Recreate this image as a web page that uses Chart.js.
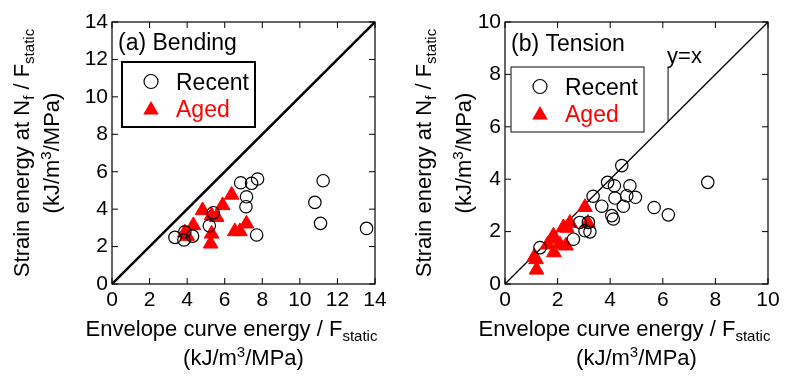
<!DOCTYPE html>
<html>
<head>
<meta charset="utf-8">
<script src="https://cdn.jsdelivr.net/npm/chart.js@4.4.0/dist/chart.umd.min.js"></script>
<style>
  body { margin: 0; background: #fff; }
  #wrap { position: relative; width: 789px; height: 378px; }
  #wrap canvas { position: absolute; top: 0; }
</style>
</head>
<body>
<div id="wrap">
  <canvas id="bending" width="394" height="378" style="left:0"></canvas>
  <canvas id="tension" width="395" height="378" style="left:394px"></canvas>
</div>
<script>
// (a) Bending
const bendingTicks = [0, 2, 4, 6, 8, 10, 12, 14];
const bendingRecentX = [3.35, 3.83, 4.29, 3.88, 5.39, 5.18, 6.85, 7.43, 7.75, 7.16, 7.13, 7.7, 10.8, 11.24, 11.1, 13.55];
const bendingRecentY = [2.49, 2.35, 2.56, 2.79, 3.81, 3.11, 5.41, 5.38, 5.61, 4.66, 4.13, 2.62, 4.36, 5.52, 3.24, 2.97];
const bendingAgedX = [6.37, 4.82, 5.89, 5.3, 5.57, 4.33, 3.88, 4.0, 5.3, 5.25, 6.54, 6.81, 7.16];
const bendingAgedY = [4.76, 3.93, 4.2, 3.66, 3.57, 3.13, 2.74, 2.56, 2.68, 2.15, 2.81, 2.81, 3.22];

// (b) Tension
const tensionTicks = [0, 2, 4, 6, 8, 10];
const tensionRecentX = [4.44, 3.9, 4.16, 4.75, 4.63, 4.96, 4.18, 3.35, 3.68, 4.5, 4.06, 4.12, 3.17, 3.04, 3.23, 2.85, 2.6, 1.33, 5.67, 6.21, 7.71];
const tensionRecentY = [4.52, 3.88, 3.75, 3.75, 3.37, 3.31, 3.28, 3.35, 2.97, 2.97, 2.61, 2.48, 2.35, 2.03, 1.99, 2.35, 1.71, 1.39, 2.92, 2.64, 3.88];
const tensionAgedX = [3.04, 3.15, 2.47, 2.35, 2.22, 1.8, 1.84, 1.62, 2.09, 2.32, 1.86, 1.12, 1.18, 1.2];
const tensionAgedY = [2.93, 2.33, 2.33, 2.14, 2.16, 1.72, 1.84, 1.5, 1.5, 1.46, 1.2, 1.04, 0.94, 0.54];
const tensionLabelX = 6.2; // where the "y=x" leader meets the line

const FONT = '"Liberation Sans", Arial, sans-serif';
const RED = '#ff0000';

function toPoints(xs, ys) {
  return xs.map((x, i) => ({ x: x, y: ys[i] }));
}

// text with sub/superscripts: parts = [[text, ''|'sub'|'sup'], ...]
function richWidth(ctx, parts, size) {
  let w = 0;
  parts.forEach(([t, k]) => {
    ctx.font = (k ? Math.round(size * 0.68) : size) + 'px ' + FONT;
    w += ctx.measureText(t).width;
  });
  return w;
}
function drawRich(ctx, parts, x, y, size) {
  let cx = x;
  parts.forEach(([t, k]) => {
    ctx.font = (k ? Math.round(size * 0.68) : size) + 'px ' + FONT;
    const dy = k === 'sub' ? size * 0.24 : k === 'sup' ? -size * 0.36 : 0;
    ctx.fillText(t, cx, y + dy);
    cx += ctx.measureText(t).width;
  });
}

const yTitle = [['Strain energy at N', ''], ['f', 'sub'], [' / F', ''], ['static', 'sub']];
const xTitle = [['Envelope curve energy / F', ''], ['static', 'sub']];
const unitTitle = [['(kJ/m', ''], ['3', 'sup'], ['/MPa)', '']];

const decoPlugin = {
  id: 'deco',
  afterDraw(chart, args, o) {
    const ctx = chart.ctx;
    const a = chart.chartArea;
    const xs = chart.scales.x, ys = chart.scales.y;
    ctx.save();
    ctx.fillStyle = '#000';
    ctx.strokeStyle = '#000';

    // frame + inward ticks
    ctx.lineWidth = 1.2;
    ctx.strokeRect(a.left, a.top, a.right - a.left, a.bottom - a.top);
    ctx.lineWidth = 1;
    ctx.beginPath();
    o.ticks.forEach(v => {
      const px = xs.getPixelForValue(v), py = ys.getPixelForValue(v);
      ctx.moveTo(px, a.bottom); ctx.lineTo(px, a.bottom - 6);
      ctx.moveTo(px, a.top); ctx.lineTo(px, a.top + 6);
      ctx.moveTo(a.left, py); ctx.lineTo(a.left + 6, py);
      ctx.moveTo(a.right, py); ctx.lineTo(a.right - 6, py);
    });
    ctx.stroke();

    // axis titles
    ctx.textBaseline = 'alphabetic';
    ctx.textAlign = 'left';
    const cx = (a.left + a.right) / 2;
    const cy = (a.top + a.bottom) / 2;
    let w = richWidth(ctx, xTitle, 22);
    drawRich(ctx, xTitle, cx - 12 - w / 2, 336, 22);
    w = richWidth(ctx, unitTitle, 22);
    drawRich(ctx, unitTitle, cx - w / 2, 365, 22);

    [[yTitle, o.yTitleX[0]], [unitTitle, o.yTitleX[1]]].forEach(([parts, bx]) => {
      ctx.save();
      ctx.translate(bx, cy);
      ctx.rotate(-Math.PI / 2);
      const tw = richWidth(ctx, parts, 22);
      drawRich(ctx, parts, -tw / 2, 0, 22);
      ctx.restore();
    });

    // panel label
    ctx.font = '23px ' + FONT;
    ctx.fillText(o.label, a.left + 6, o.labelY);

    // legend box
    const L = o.legend;
    ctx.lineWidth = L.border;
    ctx.strokeStyle = L.color;
    ctx.strokeRect(L.x, L.y, L.w, L.h);
    ctx.strokeStyle = '#000';
    ctx.lineWidth = 1.2;
    ctx.beginPath();
    ctx.arc(L.x + 29, L.y + 19.5, 7, 0, Math.PI * 2);
    ctx.stroke();
    const tx = L.x + 29, ty = L.y + 48, r = 9;
    ctx.fillStyle = RED;
    ctx.beginPath();
    ctx.moveTo(tx, ty - r);
    ctx.lineTo(tx + r * Math.sin(2 * Math.PI / 3), ty + r / 2);
    ctx.lineTo(tx - r * Math.sin(2 * Math.PI / 3), ty + r / 2);
    ctx.closePath();
    ctx.fill();
    ctx.font = '23px ' + FONT;
    ctx.fillStyle = '#000';
    ctx.fillText('Recent', L.x + 54, L.y + 27.5);
    ctx.fillStyle = RED;
    ctx.fillText('Aged', L.x + 54, L.y + 55);

    // y=x note
    if (o.note) {
      const px = xs.getPixelForValue(o.note.x);
      ctx.strokeStyle = '#000';
      ctx.lineWidth = 1;
      ctx.beginPath();
      ctx.moveTo(px, ys.getPixelForValue(o.note.x));
      ctx.lineTo(px, ys.getPixelForValue(o.note.top));
      ctx.stroke();
      ctx.fillStyle = '#000';
      ctx.font = '22px ' + FONT;
      ctx.fillText('y=x', px - 1, ys.getPixelForValue(o.note.top) - 4);
    }
    ctx.restore();
  }
};

function makeChart(id, ticks, recX, recY, agedX, agedY, lineWidth, yWidth, padRight, deco) {
  const max = ticks[ticks.length - 1];
  const axis = (fit) => ({
    type: 'linear',
    min: 0,
    max: max,
    ticks: { stepSize: 2, autoSkip: false, maxRotation: 0, padding: 4, color: '#000', font: { family: FONT, size: 21 } },
    grid: { display: false, drawTicks: false },
    border: { display: false },
    afterFit: fit
  });
  return new Chart(document.getElementById(id), {
    type: 'scatter',
    data: {
      datasets: [
        {
          label: 'Recent',
          data: toPoints(recX, recY),
          pointStyle: 'circle',
          pointRadius: 6.2,
          borderWidth: 1.2,
          borderColor: '#000',
          backgroundColor: 'rgba(0,0,0,0)'
        },
        {
          label: 'Aged',
          data: toPoints(agedX, agedY),
          pointStyle: 'triangle',
          pointRadius: 8.5,
          borderWidth: 1,
          borderColor: RED,
          backgroundColor: RED
        },
        {
          label: 'y=x',
          type: 'line',
          data: [{ x: 0, y: 0 }, { x: max, y: max }],
          borderColor: '#000',
          borderWidth: lineWidth,
          pointRadius: 0,
          fill: false
        }
      ]
    },
    options: {
      responsive: false,
      animation: false,
      events: [],
      layout: { padding: { top: 22, right: padRight, left: 0, bottom: 0 } },
      scales: {
        x: axis(s => { s.height = 94; }),
        y: axis(s => { s.width = yWidth; })
      },
      plugins: {
        legend: { display: false },
        tooltip: { enabled: false },
        deco: deco
      }
    },
    plugins: [decoPlugin]
  });
}

makeChart('bending', bendingTicks, bendingRecentX, bendingRecentY, bendingAgedX, bendingAgedY, 2.5, 112, 19, {
  ticks: bendingTicks,
  yTitleX: [29, 59],
  label: '(a) Bending',
  labelY: 50,
  legend: { x: 122, y: 62, w: 133, h: 65, border: 2, color: '#000' }
});

makeChart('tension', tensionTicks, tensionRecentX, tensionRecentY, tensionAgedX, tensionAgedY, 1.3, 111, 21, {
  ticks: tensionTicks,
  yTitleX: [37, 77],
  label: '(b) Tension',
  labelY: 51,
  legend: { x: 117, y: 67, w: 133, h: 65, border: 1.3, color: '#444' },
  note: { x: tensionLabelX, top: 8.28 }
});
</script>
</body>
</html>
